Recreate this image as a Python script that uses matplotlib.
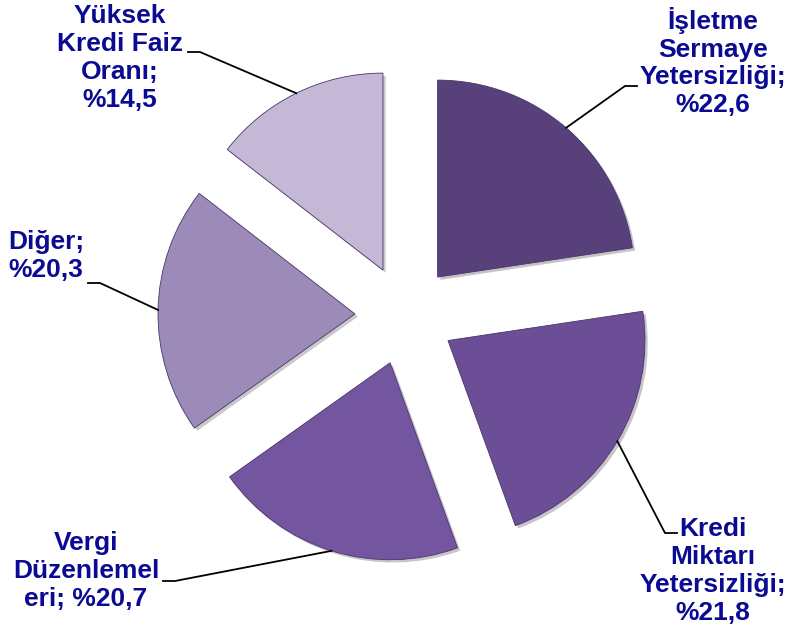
import numpy as np
import matplotlib.pyplot as plt
import matplotlib.patheffects as pe

# data
names = ['İşletme\nSermaye\nYetersizliği', 'Kredi\nMiktarı\nYetersizliği',
         'Vergi\nDüzenlemel\neri', 'Diğer', 'Yüksek\nKredi Faiz\nOranı']
values = [22.6, 21.8, 20.7, 20.3, 14.5]
colors = ['#58407a', '#6b4e96', '#7455a0', '#9c8ab8', '#c4b8d6']

# layout (pixel coords, y measured from top)
W, H = 792, 634
cx, cy = 405, 315
R = 197
EXPL = 50
label_pos = [(713, 62), (713, 571), (86, 571), (46, 256), (120, 58)]
elbow_pos = [(625, 86), (665, 533), (175, 581), (100, 283), (200, 52)]
hook_len = [12, 12, -12, -12, -12]
value_sep = ['\n', '\n', ' ', '\n', '\n']

fig = plt.figure(figsize=(W / 100, H / 100), dpi=100)
ax = fig.add_axes([0, 0, 1, 1])

wedges, _ = ax.pie(values, colors=colors, startangle=90, counterclock=False,
                   radius=R, center=(cx, H - cy), explode=[EXPL] * len(values),
                   wedgeprops=dict(edgecolor='#4a3468', linewidth=0.6))
for w in wedges:
    w.set_path_effects([pe.SimplePatchShadow(offset=(2, -2), alpha=0.25), pe.Normal()])

ax.set_xlim(0, W)
ax.set_ylim(0, H)
ax.set_aspect('equal')
ax.axis('off')

for i, w in enumerate(wedges):
    mid = np.deg2rad((w.theta1 + w.theta2) / 2)
    wx, wy = w.center
    px = wx + R * np.cos(mid)
    py = wy + R * np.sin(mid)
    ex, ey = elbow_pos[i]
    ey = H - ey
    ax.plot([px, ex, ex + hook_len[i]], [py, ey, ey], color='black', lw=1.3)
    val = '%' + f'{values[i]:.1f}'.replace('.', ',')
    label = names[i] + ';' + value_sep[i] + val
    lx, ly = label_pos[i]
    ax.text(lx, H - ly, label, ha='center', va='center', multialignment='center',
            fontsize=19, fontweight='bold', color='#0a0a92',
            family=['Liberation Sans', 'DejaVu Sans'], linespacing=1.2)

fig.savefig('out.png', dpi=100)
